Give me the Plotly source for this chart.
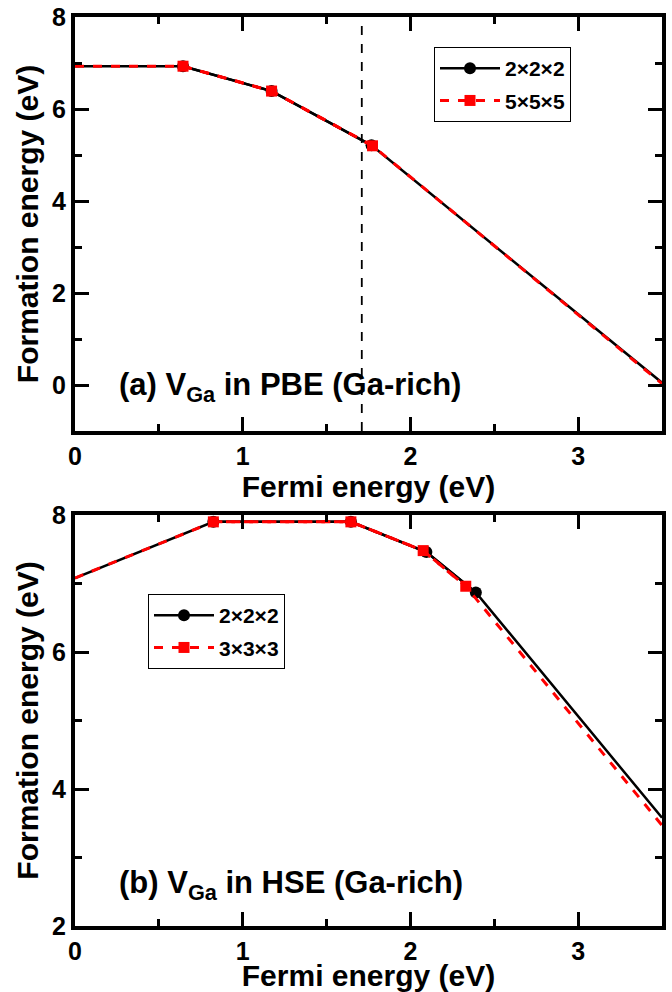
import plotly.graph_objects as go

# ---------------- data ----------------
pbe_222_x = [0.0, 0.644, 1.172, 1.768, 3.5]
pbe_222_y = [6.93, 6.93, 6.39, 5.21, 0.05]
pbe_555_x = [0.0, 0.644, 1.172, 1.774, 3.5]
pbe_555_y = [6.93, 6.93, 6.39, 5.20, 0.03]
pbe_vbm_line_x = 1.71

hse_222_x = [0.0, 0.825, 1.645, 2.095, 2.39, 3.5]
hse_222_y = [7.08, 7.90, 7.90, 7.46, 6.87, 3.58]
hse_333_x = [0.0, 0.825, 1.645, 2.076, 2.33, 3.5]
hse_333_y = [7.08, 7.90, 7.90, 7.48, 6.96, 3.47]

top_labels = ["2\u00d72\u00d72", "5\u00d75\u00d75"]
bot_labels = ["2\u00d72\u00d72", "3\u00d73\u00d73"]
top_text = "(a) V<sub>Ga</sub> in PBE (Ga-rich)"
bot_text = "(b) V<sub>Ga</sub> in HSE (Ga-rich)"
x_title = "Fermi energy (eV)"
y_title = "Formation energy (eV)"

# ---------------- geometry ----------------
W, H = 672, 992
ML, MR, MT, MB = 75, 10, 17, 66
PW, PH = W - ML - MR, H - MT - MB


def px(xp):
    return (xp - ML) / PW


def py(yp):
    return (H - MB - yp) / PH


FONT = "Liberation Sans, Arial, Helvetica, sans-serif"
BLACK = "#000000"
RED = "#ff0000"

fig = go.Figure()


def add_series(xs, ys, color, width, dash, symbol, msize, name, xref, yref, legend):
    # full line (including the end points, which carry no marker)
    fig.add_trace(go.Scatter(
        x=xs, y=ys, xaxis=xref, yaxis=yref, mode="lines",
        line=dict(color=color, width=width, dash=dash),
        showlegend=False, hoverinfo="skip", legendgroup=name + legend))
    # interior points with markers (also provides the legend sample)
    fig.add_trace(go.Scatter(
        x=xs[1:-1], y=ys[1:-1], xaxis=xref, yaxis=yref, mode="lines+markers",
        line=dict(color=color, width=width, dash=dash),
        marker=dict(symbol=symbol, color=color, size=msize),
        name=name, legend=legend, legendgroup=name + legend, showlegend=True,
        hoverinfo="x+y"))


add_series(pbe_222_x, pbe_222_y, BLACK, 2.5, "solid", "circle", 12, top_labels[0], "x", "y", "legend")
add_series(pbe_555_x, pbe_555_y, RED, 3, "dash", "square", 11, top_labels[1], "x", "y", "legend")
add_series(hse_222_x, hse_222_y, BLACK, 2.5, "solid", "circle", 12, bot_labels[0], "x2", "y2", "legend2")
add_series(hse_333_x, hse_333_y, RED, 3, "dash", "square", 11, bot_labels[1], "x2", "y2", "legend2")

# vertical dashed line in the top panel
fig.add_trace(go.Scatter(
    x=[pbe_vbm_line_x, pbe_vbm_line_x], y=[-1, 8], xaxis="x", yaxis="y", mode="lines",
    line=dict(color=BLACK, width=1.8, dash="dash"), showlegend=False, hoverinfo="skip"))

top_dom = [py(431), 1.0]
bot_dom = [0.0, py(515)]


def axis(rng, anchor, dom, t0, dt, mdt, title, standoff):
    return dict(
        domain=dom, range=rng, anchor=anchor,
        tickmode="linear", tick0=t0, dtick=dt,
        minor=dict(ticks="inside", ticklen=7, tickwidth=3, dtick=mdt),
        showline=True, linewidth=4, linecolor=BLACK, mirror="allticks",
        ticks="inside", ticklen=14, tickwidth=3, tickcolor=BLACK,
        showgrid=False, zeroline=False, automargin=False,
        tickfont=dict(family=FONT, size=25, color=BLACK, weight="bold"),
        title=dict(text=title, standoff=standoff,
                   font=dict(family=FONT, size=30, color=BLACK, weight="bold")),
    )


legend_common = dict(
    bgcolor="white", bordercolor=BLACK, borderwidth=1,
    font=dict(family=FONT, size=21, color=BLACK, weight="bold"),
    xanchor="left", yanchor="top", tracegroupgap=2, itemwidth=60,
)

fig.update_layout(
    width=W, height=H,
    margin=dict(l=ML, r=MR, t=MT, b=MB),
    paper_bgcolor="white", plot_bgcolor="white",
    font=dict(family=FONT, color=BLACK),
    xaxis=axis([0, 3.5], "y", [0, 1], 0, 1, 0.5, x_title, 2),
    yaxis=axis([-1, 8], "x", top_dom, 0, 2, 1, y_title, 6),
    xaxis2=axis([0, 3.5], "y2", [0, 1], 0, 1, 0.5, x_title, 2),
    yaxis2=axis([2, 8], "x2", bot_dom, 2, 2, 1, y_title, 6),
    legend=dict(x=px(434), y=py(47), **legend_common),
    legend2=dict(x=px(148), y=py(594), **legend_common),
    annotations=[
        dict(text=top_text, xref="paper", yref="paper", x=px(117), y=py(387),
             xanchor="left", yanchor="middle", showarrow=False,
             font=dict(family=FONT, size=31, color=BLACK, weight="bold")),
        dict(text=bot_text, xref="paper", yref="paper", x=px(117), y=py(885),
             xanchor="left", yanchor="middle", showarrow=False,
             font=dict(family=FONT, size=31, color=BLACK, weight="bold")),
    ],
)

fig.write_html("out.html")
